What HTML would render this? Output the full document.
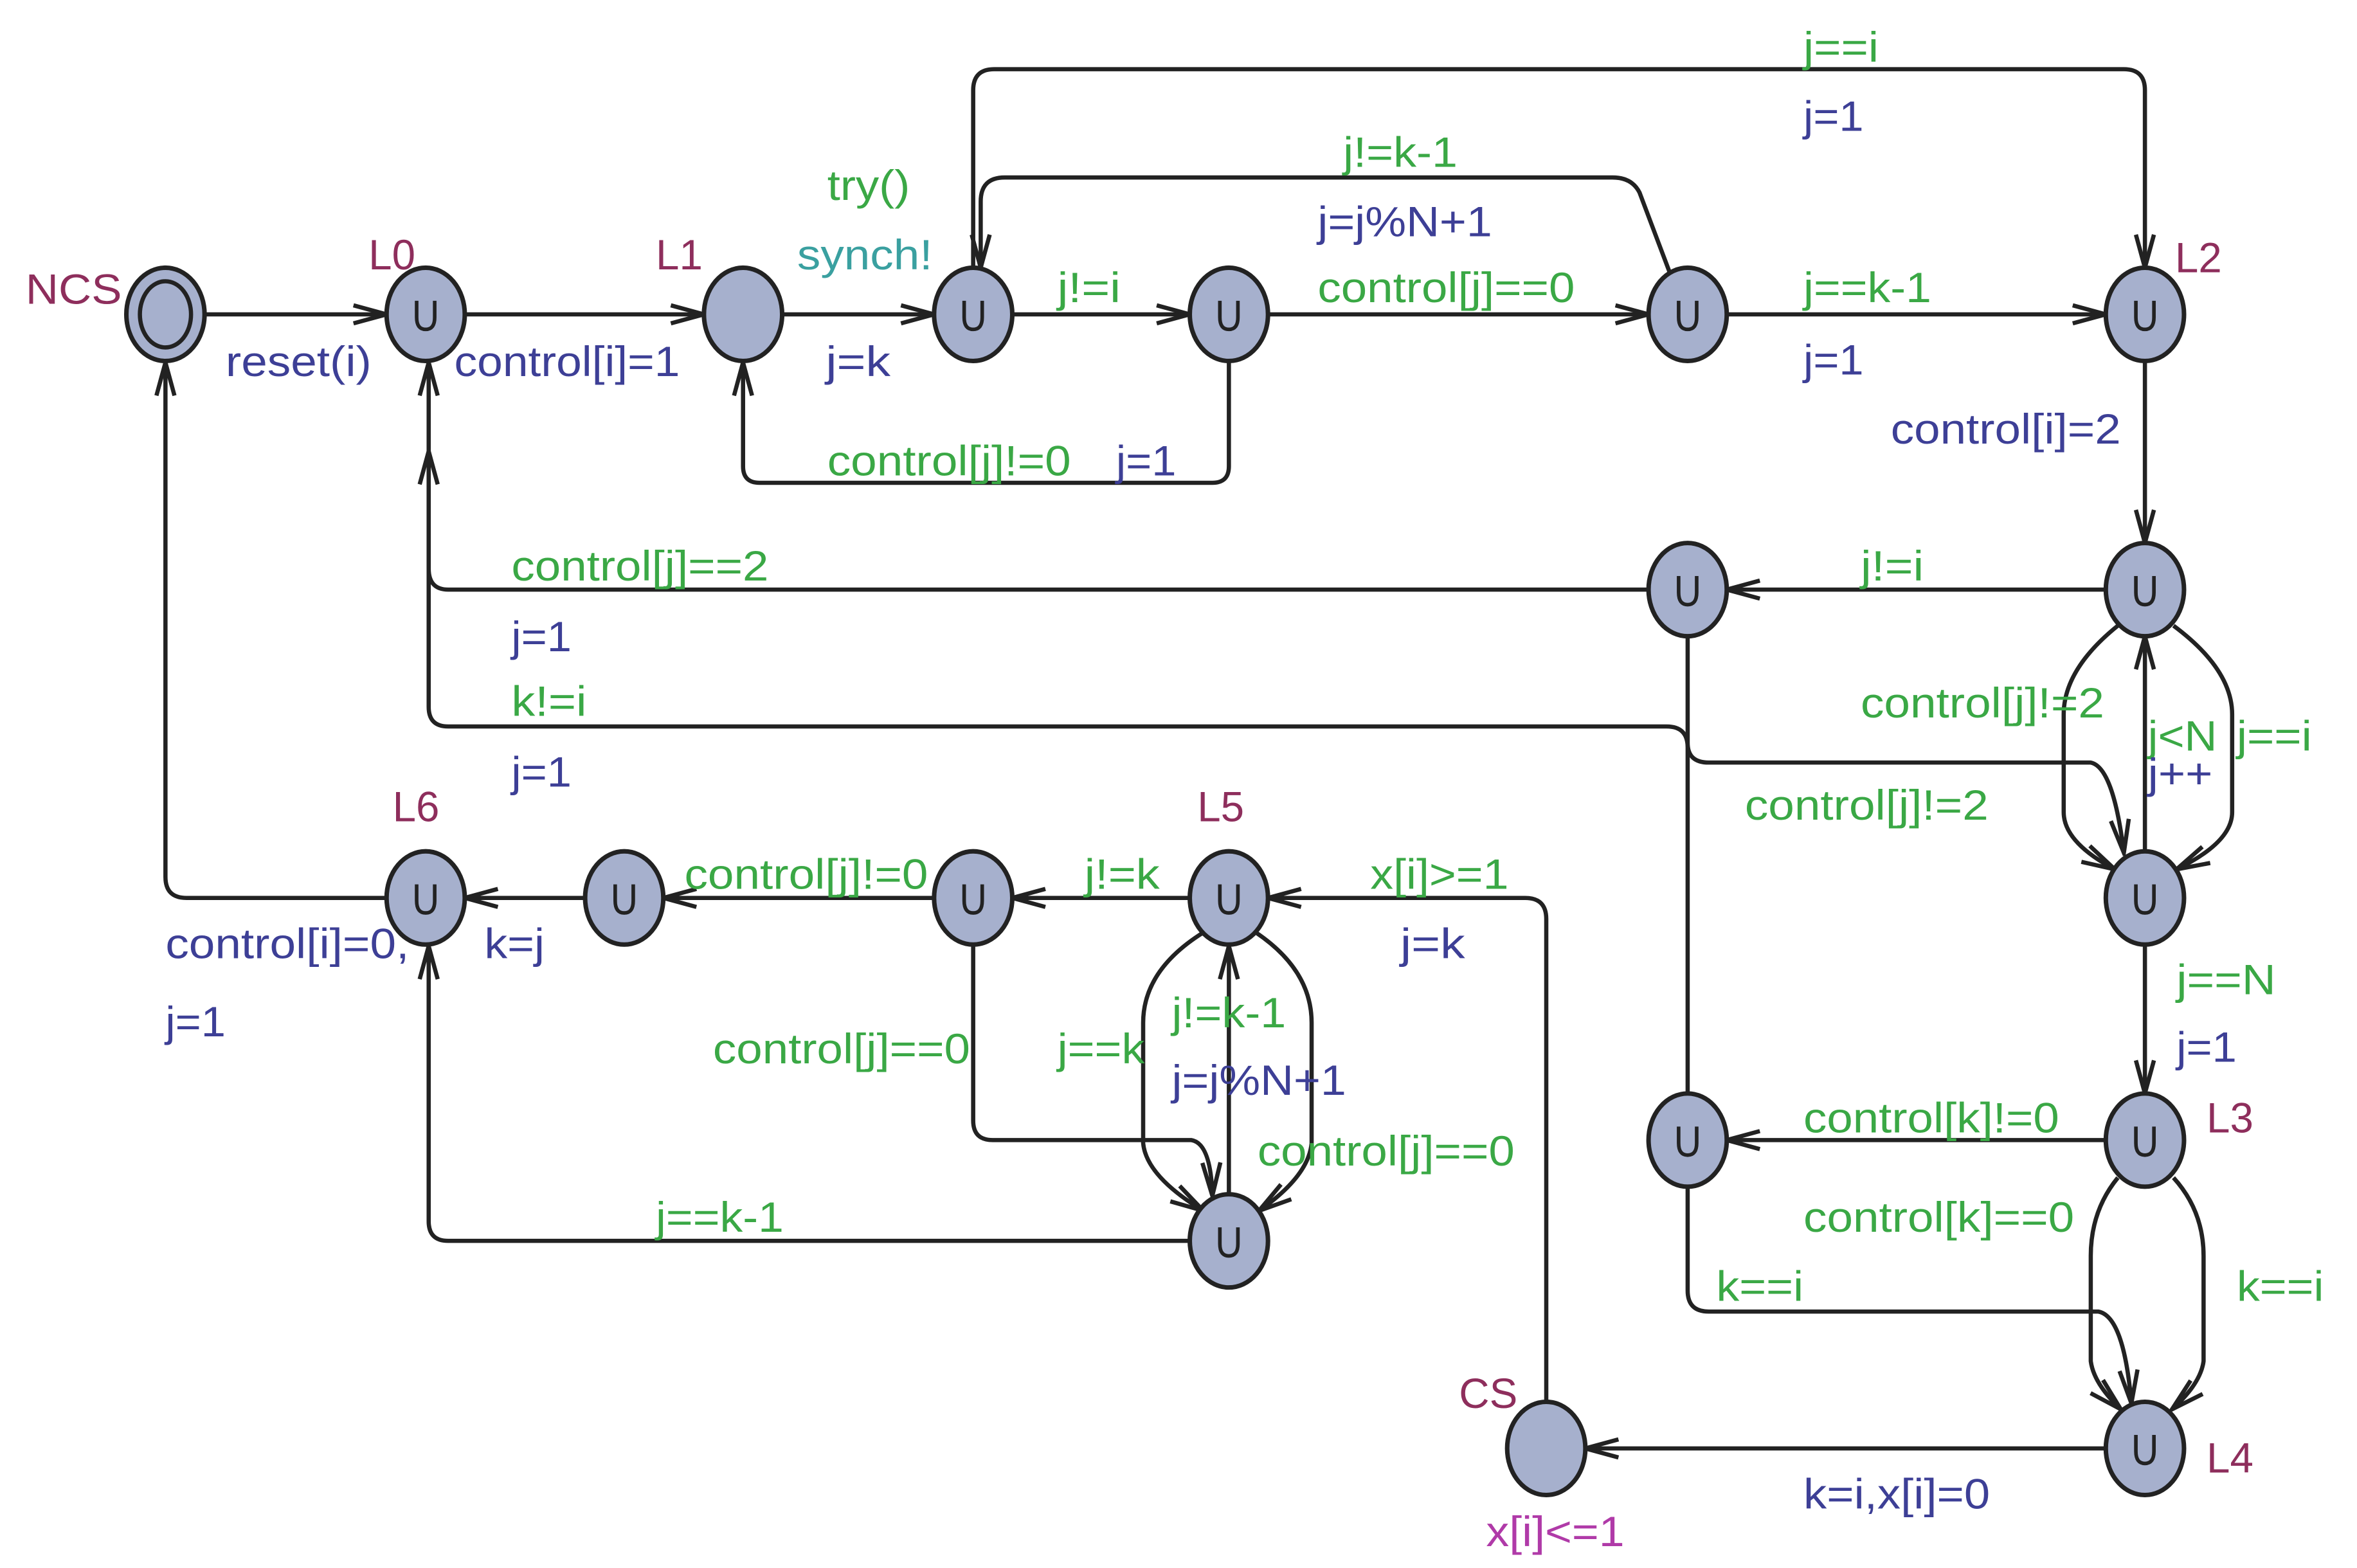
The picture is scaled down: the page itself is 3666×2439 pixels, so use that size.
<!DOCTYPE html>
<html><head><meta charset="utf-8"><style>
html,body{margin:0;padding:0;background:#fff}
svg{display:block}
text{font-family:"Liberation Sans",sans-serif;font-size:28px}
.g{fill:#3aa845}.b{fill:#3d3f96}.m{fill:#8e2e5c}.t{fill:#3aa0a0}.p{fill:#b03aa8}
.e{fill:none;stroke:#222;stroke-width:2.8;marker-end:url(#a)}
.n{fill:#a6b0cd;stroke:#222;stroke-width:3}
.u{fill:none;stroke:#222;stroke-width:2.4}
</style></head><body>
<svg width="3666" height="2439" viewBox="0 0 1567 1042.5" preserveAspectRatio="none" xmlns="http://www.w3.org/2000/svg">
<defs>
<marker id="a" markerUnits="userSpaceOnUse" markerWidth="26" markerHeight="16" refX="24" refY="8" orient="auto">
<path d="M2,2 L24,8 L2,14" fill="none" stroke="#222" stroke-width="2.8"/>
</marker>
<g id="nu"><ellipse class="n" rx="26" ry="31"/><path class="u" d="M-6,-9 V2 Q-6,10 0,10 Q6,10 6,2 V-9"/></g>
</defs>

<path class="e" d="M136,209 H257"/>
<path class="e" d="M309,209 H468"/>
<path class="e" d="M520,209 H621"/>
<path class="e" d="M673,209 H791"/>
<path class="e" d="M817,241 V310 Q817,321 806,321 H505 Q494,321 494,310 V241"/>
<path class="e" d="M843,209 H1096"/>
<path class="e" d="M1110,181 L1090,128 Q1085,118 1072,118 H668 Q652,118 652,134 V178"/>
<path class="e" d="M647,178 V60 Q647,46 661,46 H1412 Q1426,46 1426,60 V178"/>
<path class="e" d="M1148,209 H1400"/>
<path class="e" d="M1426,241 V361"/>
<path class="e" d="M1400,392 H1148"/>
<path class="e" d="M1096,392 H298 Q285,392 285,378 V241"/>
<path class="e" d="M1122,727 V497 Q1122,483 1108,483 H298 Q285,483 285,470 V300"/>
<path class="e" d="M1122,424 V494 Q1122,507 1136,507 H1390 Q1405,510 1412,567"/>
<path class="e" d="M1408,416 Q1372,445 1372,475 V540 Q1372,560 1406,578"/>
<path class="e" d="M1445,416 Q1484,445 1484,475 V540 Q1484,560 1447,578"/>
<path class="e" d="M1426,565 V423"/>
<path class="e" d="M1426,629 V727"/>
<path class="e" d="M1400,758 H1148"/>
<path class="e" d="M1408,783 Q1390,805 1390,835 V905 Q1392,920 1410,937"/>
<path class="e" d="M1445,783 Q1465,805 1465,835 V905 Q1463,920 1444,937"/>
<path class="e" d="M1122,790 V858 Q1122,872 1136,872 H1395 Q1412,875 1417,933"/>
<path class="e" d="M1400,963 H1054"/>
<path class="e" d="M1028,933 V611 Q1028,597 1014,597 H843"/>
<path class="e" d="M791,597 H673"/>
<path class="e" d="M621,597 H441"/>
<path class="e" d="M389,597 H309"/>
<path class="e" d="M257,597 H124 Q110,597 110,583 V241"/>
<path class="e" d="M647,629 V745 Q647,758 660,758 H792 Q805,760 806,795"/>
<path class="e" d="M800,620 Q760,645 760,680 V760 Q762,782 800,805"/>
<path class="e" d="M835,620 Q872,645 872,680 V760 Q870,782 837,805"/>
<path class="e" d="M817,793 V629"/>
<path class="e" d="M791,825 H298 Q285,825 285,812 V629"/>

<ellipse class="n" cx="110" cy="209" rx="26" ry="31"/><ellipse class="u" cx="110" cy="209" rx="17" ry="22" style="stroke-width:2.8"/>
<use href="#nu" x="283" y="209"/>
<ellipse class="n" cx="494" cy="209" rx="26" ry="31"/>
<use href="#nu" x="647" y="209"/>
<use href="#nu" x="817" y="209"/>
<use href="#nu" x="1122" y="209"/>
<use href="#nu" x="1426" y="209"/>
<use href="#nu" x="1426" y="392"/>
<use href="#nu" x="1122" y="392"/>
<use href="#nu" x="1426" y="597"/>
<use href="#nu" x="1426" y="758"/>
<use href="#nu" x="1122" y="758"/>
<use href="#nu" x="1426" y="963"/>
<ellipse class="n" cx="1028" cy="963" rx="26" ry="31"/>
<use href="#nu" x="817" y="597"/>
<use href="#nu" x="647" y="597"/>
<use href="#nu" x="415" y="597"/>
<use href="#nu" x="283" y="597"/>
<use href="#nu" x="817" y="825"/>

<text class="m" x="17" y="202" textLength="64" lengthAdjust="spacingAndGlyphs">NCS</text>
<text class="m" x="245" y="179">L0</text>
<text class="m" x="436" y="179">L1</text>
<text class="m" x="1446" y="181">L2</text>
<text class="m" x="1467" y="753">L3</text>
<text class="m" x="1467" y="979">L4</text>
<text class="m" x="796" y="546">L5</text>
<text class="m" x="261" y="546">L6</text>
<text class="m" x="970" y="936">CS</text>
<text class="p" x="988" y="1028" textLength="92" lengthAdjust="spacingAndGlyphs">x[i]&lt;=1</text>

<text class="b" x="150" y="250" textLength="97" lengthAdjust="spacingAndGlyphs">reset(i)</text>
<text class="b" x="302" y="250" textLength="150" lengthAdjust="spacingAndGlyphs">control[i]=1</text>
<text class="g" x="550" y="133" textLength="55" lengthAdjust="spacingAndGlyphs">try()</text>
<text class="t" x="530" y="179" textLength="90" lengthAdjust="spacingAndGlyphs">synch!</text>
<text class="b" x="549" y="250" textLength="43" lengthAdjust="spacingAndGlyphs">j=k</text>
<text class="g" x="703" y="201" textLength="42" lengthAdjust="spacingAndGlyphs">j!=i</text>
<text class="g" x="550" y="316" textLength="162" lengthAdjust="spacingAndGlyphs">control[j]!=0</text>
<text class="b" x="742" y="316" textLength="40" lengthAdjust="spacingAndGlyphs">j=1</text>
<text class="g" x="876" y="201" textLength="171" lengthAdjust="spacingAndGlyphs">control[j]==0</text>
<text class="g" x="893" y="111" textLength="76" lengthAdjust="spacingAndGlyphs">j!=k-1</text>
<text class="b" x="876" y="157" textLength="116" lengthAdjust="spacingAndGlyphs">j=j%N+1</text>
<text class="g" x="1199" y="41" textLength="50" lengthAdjust="spacingAndGlyphs">j==i</text>
<text class="b" x="1199" y="87" textLength="40" lengthAdjust="spacingAndGlyphs">j=1</text>
<text class="g" x="1199" y="201" textLength="85" lengthAdjust="spacingAndGlyphs">j==k-1</text>
<text class="b" x="1199" y="249" textLength="40" lengthAdjust="spacingAndGlyphs">j=1</text>
<text class="b" x="1257" y="295" textLength="153" lengthAdjust="spacingAndGlyphs">control[i]=2</text>
<text class="g" x="1237" y="386" textLength="42" lengthAdjust="spacingAndGlyphs">j!=i</text>
<text class="g" x="340" y="386" textLength="171" lengthAdjust="spacingAndGlyphs">control[j]==2</text>
<text class="b" x="340" y="433" textLength="40" lengthAdjust="spacingAndGlyphs">j=1</text>
<text class="g" x="340" y="476" textLength="50" lengthAdjust="spacingAndGlyphs">k!=i</text>
<text class="b" x="340" y="523" textLength="40" lengthAdjust="spacingAndGlyphs">j=1</text>
<text class="g" x="1237" y="477" textLength="162" lengthAdjust="spacingAndGlyphs">control[j]!=2</text>
<text class="g" x="1160" y="545" textLength="162" lengthAdjust="spacingAndGlyphs">control[j]!=2</text>
<text class="g" x="1428" y="499" textLength="46" lengthAdjust="spacingAndGlyphs">j&lt;N</text>
<text class="b" x="1428" y="524" textLength="43" lengthAdjust="spacingAndGlyphs">j++</text>
<text class="g" x="1487" y="499" textLength="50" lengthAdjust="spacingAndGlyphs">j==i</text>
<text class="g" x="1447" y="661" textLength="66" lengthAdjust="spacingAndGlyphs">j==N</text>
<text class="b" x="1447" y="706" textLength="40" lengthAdjust="spacingAndGlyphs">j=1</text>
<text class="g" x="1199" y="753" textLength="170" lengthAdjust="spacingAndGlyphs">control[k]!=0</text>
<text class="g" x="1199" y="819" textLength="180" lengthAdjust="spacingAndGlyphs">control[k]==0</text>
<text class="g" x="1487" y="865" textLength="58" lengthAdjust="spacingAndGlyphs">k==i</text>
<text class="g" x="1141" y="865" textLength="58" lengthAdjust="spacingAndGlyphs">k==i</text>
<text class="b" x="1199" y="1003" textLength="124" lengthAdjust="spacingAndGlyphs">k=i,x[i]=0</text>
<text class="g" x="911" y="591" textLength="92" lengthAdjust="spacingAndGlyphs">x[i]&gt;=1</text>
<text class="b" x="931" y="637" textLength="43" lengthAdjust="spacingAndGlyphs">j=k</text>
<text class="g" x="721" y="591" textLength="50" lengthAdjust="spacingAndGlyphs">j!=k</text>
<text class="g" x="455" y="591" textLength="162" lengthAdjust="spacingAndGlyphs">control[j]!=0</text>
<text class="b" x="322" y="637" textLength="40" lengthAdjust="spacingAndGlyphs">k=j</text>
<text class="b" x="110" y="637" textLength="162" lengthAdjust="spacingAndGlyphs">control[i]=0,</text>
<text class="b" x="110" y="689" textLength="40" lengthAdjust="spacingAndGlyphs">j=1</text>
<text class="g" x="474" y="707" textLength="171" lengthAdjust="spacingAndGlyphs">control[j]==0</text>
<text class="g" x="703" y="707" textLength="58" lengthAdjust="spacingAndGlyphs">j==k</text>
<text class="g" x="779" y="683" textLength="76" lengthAdjust="spacingAndGlyphs">j!=k-1</text>
<text class="b" x="779" y="728" textLength="116" lengthAdjust="spacingAndGlyphs">j=j%N+1</text>
<text class="g" x="836" y="775" textLength="171" lengthAdjust="spacingAndGlyphs">control[j]==0</text>
<text class="g" x="436" y="819" textLength="85" lengthAdjust="spacingAndGlyphs">j==k-1</text>
</svg>
</body></html>
